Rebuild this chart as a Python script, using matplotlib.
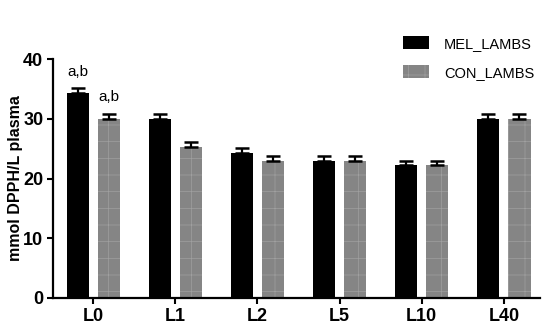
import numpy as np
import matplotlib.pyplot as plt

plt.rcParams['font.family'] = ['Liberation Sans', 'DejaVu Sans']
plt.rcParams['hatch.linewidth'] = 0.5

groups = ['L0', 'L1', 'L2', 'L5', 'L10', 'L40']
mel = [34.3, 30.0, 24.3, 23.0, 22.2, 30.0]
mel_err = [0.8, 0.8, 0.8, 0.8, 0.8, 0.8]
con = [30.0, 25.3, 23.0, 23.0, 22.2, 30.0]
con_err = [0.8, 0.8, 0.8, 0.8, 0.8, 0.8]
sig = ['a,b', '', '', '', '', '']

x = np.arange(len(groups))
w = 0.27
off = 0.19

fig = plt.figure(figsize=(5.5, 3.3), dpi=100)
ax = fig.add_axes([53/550, 1 - 298/330, 487/550, (298 - 59)/330])

ekw = dict(elinewidth=1.6, capsize=5, capthick=1.8, ecolor='black')
ax.bar(x - off, mel, w, color='black', label='MEL_LAMBS',
       yerr=[np.zeros(len(mel)), mel_err], error_kw=ekw, zorder=2)
ax.bar(x + off, con, w, color='#858585', edgecolor='#a0a0a0', linewidth=0,
       hatch='+', label='CON_LAMBS',
       yerr=[np.zeros(len(con)), con_err], error_kw=ekw, zorder=2)

for i in range(len(groups)):
    if sig[i]:
        ax.text(x[i] - off, mel[i] + mel_err[i] + 1.6, sig[i], ha='center',
                va='bottom', fontsize=11)
        ax.text(x[i] + off, con[i] + con_err[i] + 1.6, sig[i], ha='center',
                va='bottom', fontsize=11)

ax.set_xlim(-0.49, 5.44)
ax.set_ylim(0, 40)
ax.set_yticks([0, 10, 20, 30, 40])
ax.set_xticks(x)
ax.set_xticklabels(groups)
for lab in ax.get_xticklabels() + ax.get_yticklabels():
    lab.set_fontweight('bold')
    lab.set_fontsize(13)
ax.tick_params(axis='both', width=1.5, length=4, direction='out', pad=3)
ax.set_ylabel('mmol DPPH/L plasma', fontsize=11.5, fontweight='bold', labelpad=0)

for s in ['top', 'right']:
    ax.spines[s].set_visible(False)
for s in ['left', 'bottom']:
    ax.spines[s].set_linewidth(1.6)

ax.legend(loc='upper right', bbox_to_anchor=(1.015, 1.15), frameon=False,
          fontsize=10.5, handlelength=1.8, handleheight=1.0, labelspacing=1.0,
          handletextpad=1.0)

fig.savefig('out.png', dpi=100)
